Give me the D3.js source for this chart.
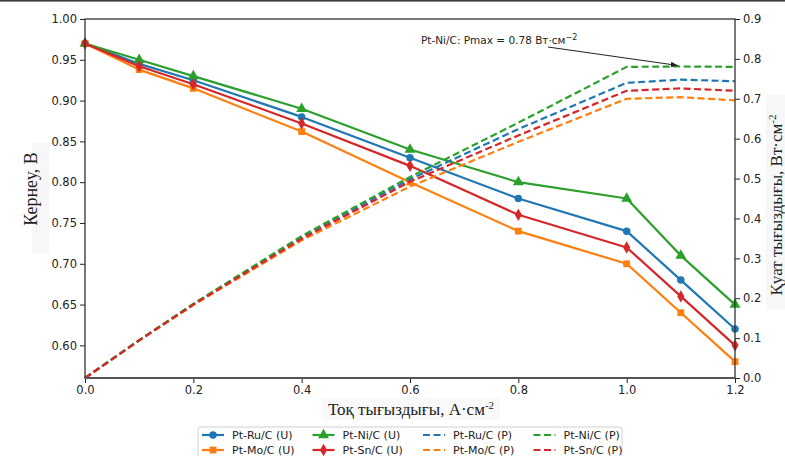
<!DOCTYPE html>
<html>
<head>
<meta charset="utf-8">
<script src="https://cdn.jsdelivr.net/npm/d3@7"></script>
<style>
  html, body { margin: 0; padding: 0; background: #fff; }
  svg { display: block; }
  text { font-family: "DejaVu Sans", sans-serif; fill: #222; }
  .serif { font-family: "Liberation Serif", "DejaVu Serif", serif; }
</style>
</head>
<body>
<svg id="chart" width="785" height="456"></svg>
<script>
// ---- Data ----
const current = [0, 0.1, 0.2, 0.4, 0.6, 0.8, 1.0, 1.1, 1.2];
const catalysts = ["Pt-Ru/C", "Pt-Mo/C", "Pt-Ni/C", "Pt-Sn/C"];
const voltageRu = [0.97, 0.945, 0.925, 0.88, 0.83, 0.78, 0.74, 0.68, 0.62];
const voltageMo = [0.97, 0.938, 0.915, 0.862, 0.80, 0.74, 0.70, 0.64, 0.58];
const voltageNi = [0.97, 0.95, 0.93, 0.89, 0.84, 0.80, 0.78, 0.71, 0.65];
const voltageSn = [0.97, 0.942, 0.92, 0.872, 0.82, 0.76, 0.72, 0.66, 0.60];
const powerRu = [0, 0.0945, 0.185, 0.352, 0.498, 0.624, 0.740, 0.748, 0.744];
const powerMo = [0, 0.0938, 0.183, 0.345, 0.480, 0.592, 0.700, 0.704, 0.696];
const powerNi = [0, 0.0950, 0.186, 0.356, 0.504, 0.640, 0.780, 0.781, 0.780];
const powerSn = [0, 0.0942, 0.184, 0.349, 0.492, 0.608, 0.720, 0.726, 0.720];
const xTicks = [0.0, 0.2, 0.4, 0.6, 0.8, 1.0, 1.2];
const yLeftTicks = [0.60, 0.65, 0.70, 0.75, 0.80, 0.85, 0.90, 0.95, 1.00];
const yRightTicks = [0.0, 0.1, 0.2, 0.3, 0.4, 0.5, 0.6, 0.7, 0.8, 0.9];
const annotationText = "Pt-Ni/C: Pmax = 0.78 Вт·см";
const annotationPoint = [1.1, 0.781];

const colors = ["#1f77b4", "#ff7f0e", "#2ca02c", "#d62728"];
const symbols = [d3.symbolCircle, d3.symbolSquare, d3.symbolTriangle, d3.symbolDiamond];
const symSizes = [44, 46, 52, 44];
const voltages = [voltageRu, voltageMo, voltageNi, voltageSn];
const powers = [powerRu, powerMo, powerNi, powerSn];

// ---- Layout ----
const svg = d3.select("#chart");
const L = 85, R = 735, T = 19, B = 378;

svg.append("rect").attr("x", 0).attr("y", 0).attr("width", 785).attr("height", 1.6).attr("fill", "#3a3a3a");

const x = d3.scaleLinear().domain([0, 1.2]).range([L, R]);
const yL = d3.scaleLinear().domain([0.56, 1.00]).range([B, T]);
const yR = d3.scaleLinear().domain([0, 0.9]).range([B, T]);

// axes
const fmt2 = d3.format(".2f"), fmt1 = d3.format(".1f");
const gx = svg.append("g").attr("transform", `translate(0,${B})`)
  .call(d3.axisBottom(x).tickValues(xTicks).tickFormat(fmt1).tickSize(5).tickPadding(3));
const gyl = svg.append("g").attr("transform", `translate(${L},0)`)
  .call(d3.axisLeft(yL).tickValues(yLeftTicks).tickFormat(fmt2).tickSize(5).tickPadding(3));
const gyr = svg.append("g").attr("transform", `translate(${R},0)`)
  .call(d3.axisRight(yR).tickValues(yRightTicks).tickFormat(fmt1).tickSize(5).tickPadding(3));
[gx, gyl, gyr].forEach(g => {
  g.select(".domain").remove();
  g.selectAll(".tick line").attr("stroke", "#222").attr("stroke-width", 1);
  g.selectAll(".tick text").attr("font-size", 11.5).attr("fill", "#222")
    .style("font-family", "'DejaVu Sans', sans-serif");
});

const plot = svg.append("g");

voltages.forEach((vals, i) => {
  const line = d3.line().x((d, j) => x(current[j])).y(d => yL(d));
  plot.append("path").datum(vals).attr("d", line)
    .attr("fill", "none").attr("stroke", colors[i]).attr("stroke-width", 2.2)
    .attr("stroke-linejoin", "round");
  plot.selectAll(null).data(vals).enter().append("path")
    .attr("transform", (d, j) => `translate(${x(current[j])},${yL(d)})`)
    .attr("d", d3.symbol().type(symbols[i]).size(symSizes[i]))
    .attr("fill", colors[i]);
});

powers.forEach((vals, i) => {
  const line = d3.line().x((d, j) => x(current[j])).y(d => yR(d));
  plot.append("path").datum(vals).attr("d", line)
    .attr("fill", "none").attr("stroke", colors[i]).attr("stroke-width", 2.2)
    .attr("stroke-dasharray", "7,3.5");
});

// frame
svg.append("rect").attr("x", L).attr("y", T).attr("width", R - L).attr("height", B - T)
  .attr("fill", "none").attr("stroke", "#333").attr("stroke-width", 1.3);
svg.append("line").attr("x1", L).attr("x2", R).attr("y1", B).attr("y2", B)
  .attr("stroke", "#555").attr("stroke-width", 2);

// annotation
svg.append("defs").append("marker").attr("id", "arr").attr("viewBox", "0 0 10 10")
  .attr("refX", 10).attr("refY", 5).attr("markerWidth", 7).attr("markerHeight", 7)
  .attr("markerUnits", "userSpaceOnUse").attr("orient", "auto")
  .append("path").attr("d", "M0,1 L10,5 L0,9 z").attr("fill", "#222");
const ann = svg.append("text").attr("x", 421).attr("y", 44).attr("font-size", 10.5);
ann.append("tspan").text(annotationText);
ann.append("tspan").attr("dy", -4).attr("font-size", 8).text("−2");
svg.append("line").attr("x1", 548).attr("y1", 47)
  .attr("x2", x(annotationPoint[0]) - 3).attr("y2", yR(annotationPoint[1]) - 1)
  .attr("stroke", "#222").attr("stroke-width", 1).attr("marker-end", "url(#arr)");

// axis labels
svg.append("rect").attr("x", 32).attr("y", 143).attr("width", 17).attr("height", 110).attr("fill", "#f7f7f7");
svg.append("text").attr("class", "serif").attr("font-size", 18)
  .attr("transform", "translate(37,189) rotate(-90)").attr("text-anchor", "middle")
  .text("Кернеу, В");

svg.append("rect").attr("x", 766).attr("y", 95).attr("width", 19).attr("height", 215).attr("fill", "#f7f7f7");
const rl = svg.append("text").attr("class", "serif").attr("font-size", 17)
  .attr("transform", "translate(782,205) rotate(-90)").attr("text-anchor", "middle");
rl.append("tspan").text("Қуат тығыздығы, Вт·см");
rl.append("tspan").attr("dy", -6).attr("font-size", 11).text("-2");

svg.append("rect").attr("x", 322).attr("y", 398).attr("width", 178).attr("height", 22).attr("fill", "#f9f9f9");
const xl = svg.append("text").attr("class", "serif").attr("font-size", 17)
  .attr("x", 411).attr("y", 415).attr("text-anchor", "middle");
xl.append("tspan").text("Тоқ тығыздығы, А·см");
xl.append("tspan").attr("dy", -6).attr("font-size", 11).text("-2");

// legend
svg.append("rect").attr("x", 198).attr("y", 427).attr("width", 424).attr("height", 40)
  .attr("rx", 3).attr("fill", "#fff").attr("stroke", "#d0d0d0").attr("stroke-width", 1);
const entries = [];
catalysts.forEach((c, i) => entries.push({ label: c + " (U)", i, dashed: false }));
catalysts.forEach((c, i) => entries.push({ label: c + " (P)", i, dashed: true }));
entries.forEach((e, k) => {
  const col = Math.floor(k / 2), row = k % 2;
  const x0 = 202 + col * 110.5, yy = 435 + row * 15;
  const g = svg.append("g");
  g.append("line").attr("x1", x0).attr("x2", x0 + 22).attr("y1", yy).attr("y2", yy)
    .attr("stroke", colors[e.i]).attr("stroke-width", 2.2)
    .attr("stroke-dasharray", e.dashed ? "7,3.5" : null);
  if (!e.dashed) {
    g.append("path").attr("transform", `translate(${x0 + 11},${yy})`)
      .attr("d", d3.symbol().type(symbols[e.i]).size(symSizes[e.i])).attr("fill", colors[e.i]);
  }
  g.append("text").attr("x", x0 + 30).attr("y", yy + 4).attr("font-size", 11).text(e.label);
});
</script>
</body>
</html>
